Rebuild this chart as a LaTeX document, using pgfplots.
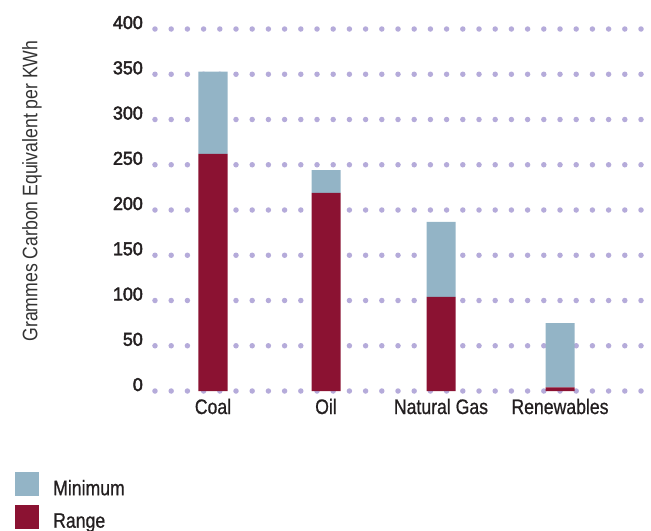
\documentclass[border=0pt]{standalone}
\usepackage{fontspec}
\setmainfont{Liberation Sans}[FakeStretch=0.84, FakeBold=0.8]
\newfontfamily\tickfont{Liberation Sans}[FakeStretch=0.96, FakeBold=2.5]
\newfontfamily\labfont{Liberation Sans}[FakeStretch=0.84]
\usepackage{pgfplots}
\pgfplotsset{compat=1.18}
\definecolor{mincol}{HTML}{93B4C6}
\definecolor{rangecol}{HTML}{8B1232}
\definecolor{gridcol}{HTML}{B5ABDA}
\definecolor{txt}{HTML}{231F20}
\begin{document}
\begin{tikzpicture}
\useasboundingbox (-155bp,-140bp) rectangle (496bp,391bp);
\begin{axis}[
  scale only axis, width=486bp, height=362bp,
  xmin=155, xmax=641, ymin=0, ymax=400,
  ybar stacked, bar width=29bp,
  axis line style={draw=none}, major tick length=0pt,
  xtick={213,326,441,560},
  xticklabels={Coal,Oil,Natural Gas,Renewables},
  ytick={0,50,...,400},
  /pgf/number format/assume math mode=true,
  ymajorgrids,
  major grid style={draw=gridcol, line width=5.5bp, line cap=round, dash pattern=on 0bp off 16.2bp},
  xticklabel style={anchor=base, yshift=-23bp, inner sep=0pt, font=\fontsize{21bp}{24bp}\selectfont, text=txt},
  yticklabel style={anchor=base east, xshift=-12bp, inner sep=0pt, font=\tickfont\fontsize{18.6bp}{22bp}\selectfont, text=txt},
  ylabel={Grammes Carbon Equivalent per KWh},
  ylabel style={at={(axis description cs:-0.2531,0.5525)}, anchor=center, font=\labfont\fontsize{21bp}{24bp}\selectfont, text=black!80},
  reverse legend,
  legend image code/.code={\fill[#1] (0bp,-1bp) rectangle (24bp,23bp);},
  legend style={at={(axis description cs:-0.288,-0.2238)}, anchor=north west, draw=none, fill=none, inner sep=0pt, row sep=8bp, column sep=14bp, font=\fontsize{21bp}{24bp}\selectfont, text=txt, nodes={inner sep=0pt, anchor=base west}},
  legend cell align=left,
]
\addplot[fill=rangecol, draw=none] coordinates {(213,262) (326,219) (441,104) (560,4)};
\addplot[fill=mincol, draw=none] coordinates {(213,91) (326,25) (441,83) (560,71)};
\legend{Range,Minimum}
\end{axis}
\end{tikzpicture}
\end{document}
